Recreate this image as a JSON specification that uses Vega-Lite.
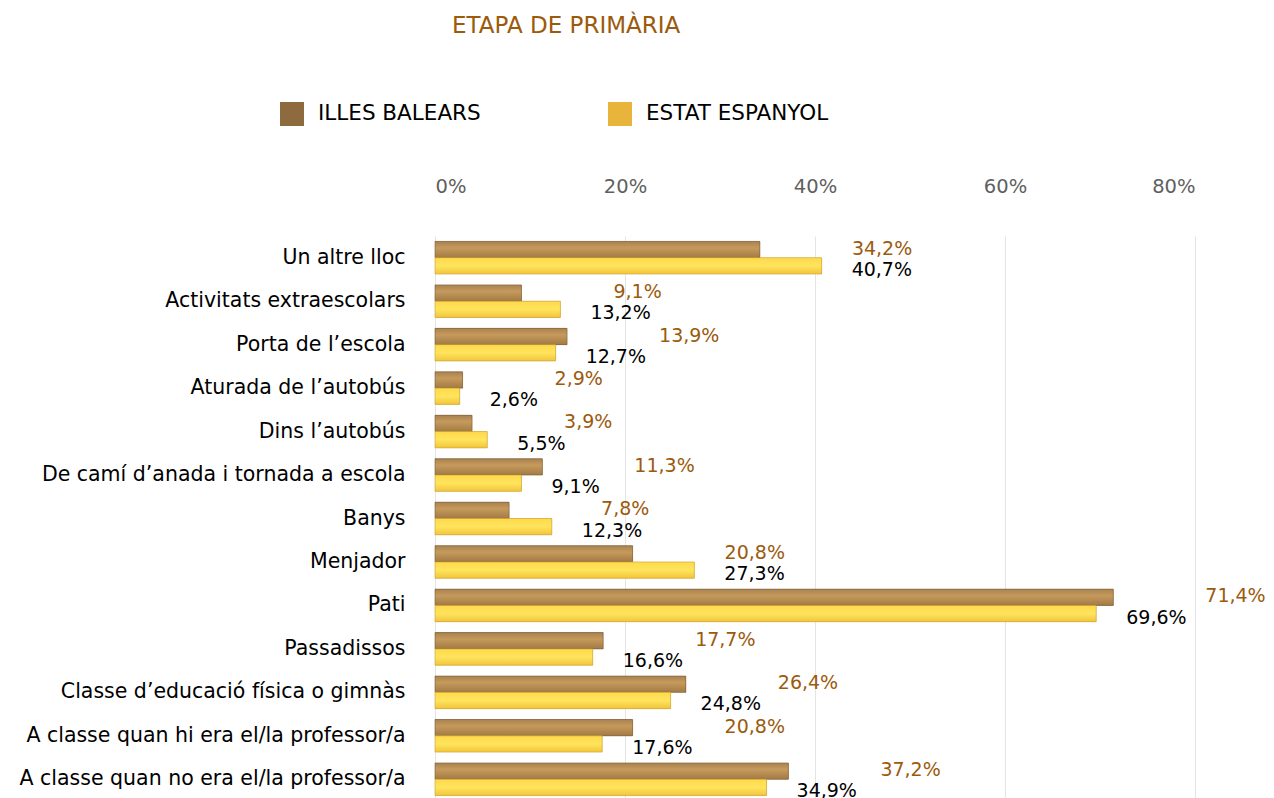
{
  "$schema": "https://vega.github.io/schema/vega-lite/v6.json",
  "autosize": {"type": "none"},
  "width": 760,
  "height": 565,
  "padding": {"left": 435, "top": 236, "right": 79, "bottom": 0},
  "background": "white",
  "config": {
    "view": {"stroke": null},
    "font": "DejaVu Sans",
    "locale": {"number": {"decimal": ",", "thousands": ".", "grouping": [3], "currency": ["", " €"]}}
  },
  "title": {
    "text": "ETAPA DE PRIMÀRIA",
    "anchor": "start",
    "frame": "group",
    "dx": 17,
    "offset": 64,
    "color": "#9C5A0C",
    "fontSize": 23,
    "fontWeight": "normal",
    "font": "DejaVu Sans"
  },
  "data": {
    "values": [
      {"cat": "Un altre lloc", "serie": "ILLES BALEARS", "v": 0.342},
      {"cat": "Un altre lloc", "serie": "ESTAT ESPANYOL", "v": 0.407},
      {"cat": "Activitats extraescolars", "serie": "ILLES BALEARS", "v": 0.091},
      {"cat": "Activitats extraescolars", "serie": "ESTAT ESPANYOL", "v": 0.132},
      {"cat": "Porta de l’escola", "serie": "ILLES BALEARS", "v": 0.139},
      {"cat": "Porta de l’escola", "serie": "ESTAT ESPANYOL", "v": 0.127},
      {"cat": "Aturada de l’autobús", "serie": "ILLES BALEARS", "v": 0.029},
      {"cat": "Aturada de l’autobús", "serie": "ESTAT ESPANYOL", "v": 0.026},
      {"cat": "Dins l’autobús", "serie": "ILLES BALEARS", "v": 0.039},
      {"cat": "Dins l’autobús", "serie": "ESTAT ESPANYOL", "v": 0.055},
      {"cat": "De camí d’anada i tornada a escola", "serie": "ILLES BALEARS", "v": 0.113},
      {"cat": "De camí d’anada i tornada a escola", "serie": "ESTAT ESPANYOL", "v": 0.091},
      {"cat": "Banys", "serie": "ILLES BALEARS", "v": 0.078},
      {"cat": "Banys", "serie": "ESTAT ESPANYOL", "v": 0.123},
      {"cat": "Menjador", "serie": "ILLES BALEARS", "v": 0.208},
      {"cat": "Menjador", "serie": "ESTAT ESPANYOL", "v": 0.273},
      {"cat": "Pati", "serie": "ILLES BALEARS", "v": 0.714},
      {"cat": "Pati", "serie": "ESTAT ESPANYOL", "v": 0.696},
      {"cat": "Passadissos", "serie": "ILLES BALEARS", "v": 0.177},
      {"cat": "Passadissos", "serie": "ESTAT ESPANYOL", "v": 0.166},
      {"cat": "Classe d’educació física o gimnàs", "serie": "ILLES BALEARS", "v": 0.264},
      {"cat": "Classe d’educació física o gimnàs", "serie": "ESTAT ESPANYOL", "v": 0.248},
      {"cat": "A classe quan hi era el/la professor/a", "serie": "ILLES BALEARS", "v": 0.208},
      {"cat": "A classe quan hi era el/la professor/a", "serie": "ESTAT ESPANYOL", "v": 0.176},
      {"cat": "A classe quan no era el/la professor/a", "serie": "ILLES BALEARS", "v": 0.372},
      {"cat": "A classe quan no era el/la professor/a", "serie": "ESTAT ESPANYOL", "v": 0.349}
    ]
  },
  "encoding": {
    "y": {
      "field": "cat",
      "type": "nominal",
      "sort": null,
      "scale": {"paddingInner": 0.25, "paddingOuter": 0.125},
      "axis": {
        "title": null,
        "domain": false,
        "ticks": false,
        "labelFontSize": 20.5,
        "labelColor": "#000000",
        "labelPadding": 30,
        "labelLimit": 500
      }
    },
    "yOffset": {"field": "serie", "type": "nominal", "sort": ["ILLES BALEARS", "ESTAT ESPANYOL"]},
    "x": {
      "field": "v",
      "type": "quantitative",
      "scale": {"domain": [0, 0.8]},
      "axis": {
        "orient": "top",
        "title": null,
        "format": ".0%",
        "values": [0, 0.2, 0.4, 0.6, 0.8],
        "domain": false,
        "ticks": false,
        "grid": true,
        "gridColor": "#E4E4E4",
        "labelFontSize": 19.5,
        "labelColor": "#5F5F5F",
        "labelPadding": 40
      }
    }
  },
  "layer": [
    {
      "mark": {"type": "bar"},
      "encoding": {
        "color": {
          "field": "serie",
          "type": "nominal",
          "sort": ["ILLES BALEARS", "ESTAT ESPANYOL"],
          "scale": {"domain": ["ILLES BALEARS", "ESTAT ESPANYOL"], "range": ["#8E6B3F", "#E8B43C"]},
          "legend": {
            "title": null,
            "orient": "none",
            "direction": "horizontal",
            "legendX": -155,
            "legendY": -134,
            "symbolType": "square",
            "symbolSize": 576,
            "symbolStrokeWidth": 0,
            "labelFontSize": 21.5,
            "labelColor": "#000000",
            "labelOffset": 14,
            "labelLimit": 400,
            "columnPadding": 127
          }
        }
      }
    },
    {
      "transform": [{"filter": "datum.serie === 'ILLES BALEARS'"}],
      "mark": {
        "type": "bar",
        "stroke": "#7A5A30",
        "strokeWidth": 0.6,
        "color": {
          "gradient": "linear", "x1": 0, "y1": 0, "x2": 0, "y2": 1,
          "stops": [
            {"offset": 0, "color": "#A88250"},
            {"offset": 0.4, "color": "#C69A5C"},
            {"offset": 1, "color": "#A27A45"}
          ]
        }
      },
      "encoding": {}
    },
    {
      "transform": [{"filter": "datum.serie === 'ESTAT ESPANYOL'"}],
      "mark": {
        "type": "bar",
        "stroke": "#C9A030",
        "strokeWidth": 0.6,
        "color": {
          "gradient": "linear", "x1": 0, "y1": 0, "x2": 0, "y2": 1,
          "stops": [
            {"offset": 0, "color": "#FFD94A"},
            {"offset": 0.5, "color": "#FFE45E"},
            {"offset": 1, "color": "#F2C53A"}
          ]
        }
      },
      "encoding": {}
    },
    {
      "transform": [{"filter": "datum.serie === 'ILLES BALEARS'"}],
      "mark": {"type": "text", "align": "left", "baseline": "middle", "dx": 92, "dy": -1, "fontSize": 19, "color": "#9C5A0C"},
      "encoding": {"text": {"field": "v", "type": "quantitative", "format": ".1%"}}
    },
    {
      "transform": [{"filter": "datum.serie === 'ESTAT ESPANYOL'"}],
      "mark": {"type": "text", "align": "left", "baseline": "middle", "dx": 30, "dy": 4, "fontSize": 19, "color": "#000000"},
      "encoding": {"text": {"field": "v", "type": "quantitative", "format": ".1%"}}
    }
  ]
}
